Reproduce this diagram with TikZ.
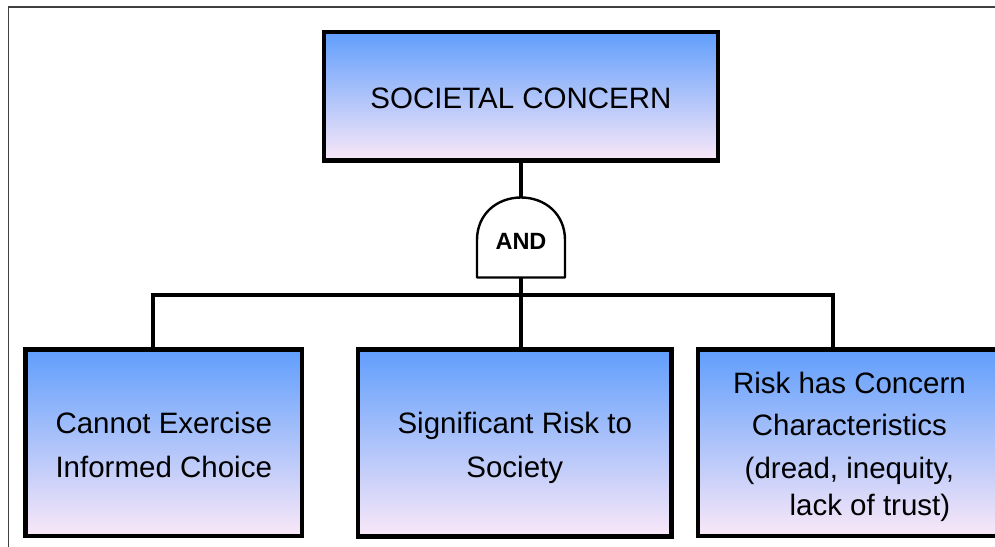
\documentclass[tikz,border=0pt]{standalone}
\usepackage{fontspec}
\setmainfont{Liberation Sans}
\definecolor{shadetop}{RGB}{96,158,252}
\definecolor{shademid}{RGB}{166,195,240}
\definecolor{shadebot}{RGB}{250,232,248}
\tikzset{
  box/.style={draw=black, line width=4.2pt, top color=shadetop, middle color=shademid,
    bottom color=shadebot, inner sep=0pt, outer sep=0pt, align=center,
    font=\fontsize{29.5}{44}\selectfont},
  wire/.style={line width=3.8pt, line join=miter},
  gateline/.style={line width=2.4pt, line join=round},
  gatebox/.style={inner sep=0pt, outer sep=0pt, minimum width=88pt, minimum height=80pt,
    font=\fontsize{23.5}{23.5}\selectfont\bfseries},
  frameline/.style={line width=1.6pt, draw=black!75}
}
\begin{document}
\begin{tikzpicture}[x=1pt, y=-1pt]
\useasboundingbox (0,0) rectangle (995,546);
\fill[white] (0,0) rectangle (995,546);
% outer frame (runs off the right and bottom edges)
\draw[frameline] (8.5,560) -- (8.5,6.7) -- (1010,6.7);

% top event (struts nudge the text block down)
\node[box, minimum width=394pt, minimum height=128.5pt] (top) at (521,96.25)
  {\rule{0pt}{25.5pt}SOCIETAL CONCERN};

% AND gate
\node[gatebox] (gate) at (521,237.5) {\rule{0pt}{23pt}AND};
\draw[gateline] (gate.south west) -- (gate.west |- 0,240)
  .. controls (477,214) and (497,197.5) .. (gate.north)
  .. controls (545,197.5) and (565,214) .. (gate.east |- 0,240)
  -- (gate.south east) -- cycle;

% basic events
\node[box, minimum width=276.5pt, minimum height=186.5pt] (left) at (163.75,442.75)
  {\rule{0pt}{25.5pt}Cannot Exercise\\Informed Choice};
\node[box, minimum width=313.5pt, minimum height=187pt] (mid) at (514.75,443)
  {\rule{0pt}{31.5pt}Significant Risk to\\Society};
\node[box, minimum width=302.5pt, minimum height=186.5pt,
  font=\fontsize{29.5}{42.4}\selectfont] (right) at (849.4,442.75)
  {\rule{0pt}{29.5pt}Risk has Concern\\Characteristics\\(dread, inequity,\\[-5.4pt]\hspace*{41pt}lack of trust)};

% connectors
\coordinate (jl) at (153,295);
\coordinate (jr) at (833,295);
\draw[wire] (top.south) -- (gate.north);
\draw[wire] (gate.south) -- (mid.north -| gate.south);
\draw[wire] (left.north -| jl) -- (jl) -- (jr) -- (right.north -| jr);
\end{tikzpicture}
\end{document}
